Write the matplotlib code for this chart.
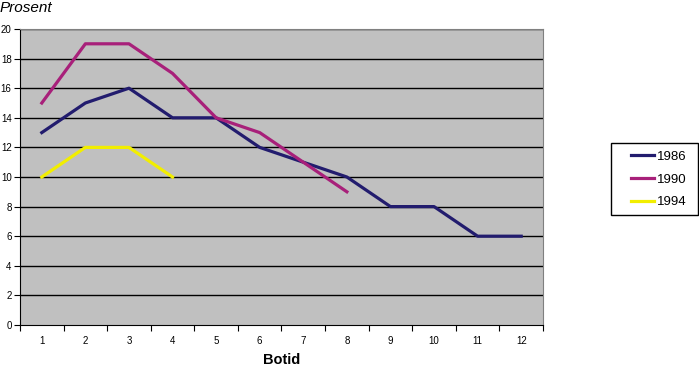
import matplotlib.pyplot as plt
import matplotlib.patches as mpatches
import numpy as np

botid = list(range(1, 13))
v1986 = [13, 15, 16, 14, 14, 12, 11, 10, 8, 8, 6, 6]
v1990 = [15, 19, 19, 17, 14, 13, 11, 9]
v1994 = [10, 12, 12, 10]
yticks = list(range(0, 21, 2))

plt.rcParams['font.family'] = ['Liberation Sans', 'DejaVu Sans']

W, H = 699, 374
fig = plt.figure(figsize=(W / 100, H / 100), dpi=100)
ax = fig.add_axes([20 / W, 1 - 325 / H, 523 / W, 296 / H])
ax.set_facecolor('#c0c0c0')

ax.plot(botid, v1986, color='#221c6e', lw=2.3, label='1986')
ax.plot(botid[:len(v1990)], v1990, color='#a8207a', lw=2.3, label='1990')
ax.plot(botid[:len(v1994)], v1994, color='#f2ee00', lw=2.3, label='1994')

ax.set_xlim(0.5, 12.5)
ax.set_ylim(0, 20)
ax.set_yticks(yticks)
ax.set_yticklabels([str(t) for t in yticks], fontsize=7)
for t in yticks[1:]:
    ax.axhline(t, color='black', lw=1, zorder=0.5)

ax.set_xticks(np.arange(0.5, 13, 1))
ax.set_xticklabels([])
ax.set_xticks(botid, minor=True)
ax.set_xticklabels([str(b) for b in botid], minor=True, fontsize=7)
ax.tick_params(axis='x', which='minor', length=0, pad=8)
ax.tick_params(axis='x', which='major', length=4, color='black', direction='out')
ax.tick_params(axis='y', length=4, color='black', pad=2)

ax.spines['left'].set_color('black')
ax.spines['bottom'].set_color('black')
ax.spines['top'].set_color('#808080')
ax.spines['right'].set_color('#808080')

ax.set_xlabel('Botid', fontsize=10.5, fontweight='bold', labelpad=5)
fig.text(0.0, 1 - 1 / H, 'Prosent', fontsize=11, style='italic', va='top', ha='left')

# legend box drawn separately so the padding can differ left/right vs top/bottom
fig.patches.append(mpatches.Rectangle((611 / W, 1 - 215 / H), 87 / W, 72 / H,
                                      transform=fig.transFigure, fill=False,
                                      edgecolor='black', lw=1))
leg = fig.legend(loc='upper left', bbox_to_anchor=(624 / W, 1 - 144 / H), fontsize=9.5,
                 frameon=False, handlelength=1.8, labelspacing=0.8, borderpad=0,
                 handletextpad=0.2)

fig.savefig('out.png', dpi=100)
